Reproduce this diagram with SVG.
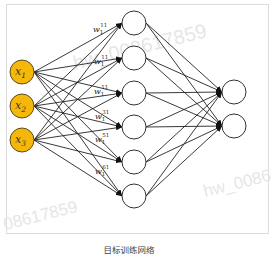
<svg xmlns="http://www.w3.org/2000/svg" width="273" height="266" viewBox="0 0 273 266">
<style>
.edge{stroke:#222;stroke-width:0.9;fill:none;marker-end:url(#ah)}
.hid{fill:#fff;stroke:#333;stroke-width:1}
.inp{fill:#F5B80A;stroke:#5a4a20;stroke-width:1}
.var{font-family:"DejaVu Serif","Liberation Serif",serif;font-style:italic;font-size:11px;fill:#333}
.w{font-family:"DejaVu Serif","Liberation Serif",serif;font-style:italic;font-size:8px;fill:#222}
.sup{font-style:normal;font-size:5.5px}
.wm{font-family:"Liberation Sans",Arial,sans-serif;fill:#e6e6e6}
.cap{font-family:"Noto Sans CJK SC","Noto Sans",sans-serif;font-size:8.5px;fill:#444}
</style>
<defs>
<marker id="ah" markerUnits="userSpaceOnUse" markerWidth="6" markerHeight="5" refX="6" refY="2.5" orient="auto">
<path d="M0,0 L6,2.5 L0,5 z" fill="#111"/>
</marker>
</defs>
<rect x="0" y="0" width="273" height="266" fill="#fff"/>
<rect x="6.5" y="4.5" width="262" height="229" fill="#fff" stroke="#dcdcdc" stroke-width="1"/>
<g id="watermarks">
<text class="wm" font-size="20" transform="translate(75,70) rotate(-14)">hw_008617859</text>
<text class="wm" font-size="17" transform="translate(205,197) rotate(-14)">hw_0086</text>
<text class="wm" font-size="17" transform="translate(5,230) rotate(-14)">08617859</text>
</g>
<g id="connectors">
<line class="edge" x1="34" y1="72" x2="122" y2="23"/>
<line class="edge" x1="34" y1="72" x2="122" y2="58"/>
<line class="edge" x1="34" y1="72" x2="122" y2="93"/>
<line class="edge" x1="34" y1="72" x2="122" y2="127"/>
<line class="edge" x1="34" y1="72" x2="122" y2="162"/>
<line class="edge" x1="34" y1="72" x2="122" y2="196"/>
<line class="edge" x1="34" y1="106" x2="122" y2="23"/>
<line class="edge" x1="34" y1="106" x2="122" y2="58"/>
<line class="edge" x1="34" y1="106" x2="122" y2="93"/>
<line class="edge" x1="34" y1="106" x2="122" y2="127"/>
<line class="edge" x1="34" y1="106" x2="122" y2="162"/>
<line class="edge" x1="34" y1="106" x2="122" y2="196"/>
<line class="edge" x1="34" y1="140" x2="122" y2="23"/>
<line class="edge" x1="34" y1="140" x2="122" y2="58"/>
<line class="edge" x1="34" y1="140" x2="122" y2="93"/>
<line class="edge" x1="34" y1="140" x2="122" y2="127"/>
<line class="edge" x1="34" y1="140" x2="122" y2="162"/>
<line class="edge" x1="34" y1="140" x2="122" y2="196"/>
<line class="edge" x1="146" y1="23" x2="222" y2="92"/>
<line class="edge" x1="146" y1="23" x2="222" y2="126"/>
<line class="edge" x1="146" y1="58" x2="222" y2="92"/>
<line class="edge" x1="146" y1="58" x2="222" y2="126"/>
<line class="edge" x1="146" y1="93" x2="222" y2="92"/>
<line class="edge" x1="146" y1="93" x2="222" y2="126"/>
<line class="edge" x1="146" y1="127" x2="222" y2="92"/>
<line class="edge" x1="146" y1="127" x2="222" y2="126"/>
<line class="edge" x1="146" y1="162" x2="222" y2="92"/>
<line class="edge" x1="146" y1="162" x2="222" y2="126"/>
<line class="edge" x1="146" y1="196" x2="222" y2="92"/>
<line class="edge" x1="146" y1="196" x2="222" y2="126"/>
</g>
<g id="weight-labels">
<text class="w" x="93" y="32">w<tspan class="sup" dy="2">1</tspan><tspan class="sup" dx="-3" dy="-7">11</tspan></text>
<text class="w" x="94" y="64">w<tspan class="sup" dy="2">1</tspan><tspan class="sup" dx="-3" dy="-7">11</tspan></text>
<text class="w" x="94" y="94">w<tspan class="sup" dy="2">1</tspan><tspan class="sup" dx="-3" dy="-7">11</tspan></text>
<text class="w" x="95" y="119">w<tspan class="sup" dy="2">1</tspan><tspan class="sup" dx="-3" dy="-7">31</tspan></text>
<text class="w" x="95" y="142">w<tspan class="sup" dy="2">1</tspan><tspan class="sup" dx="-3" dy="-7">51</tspan></text>
<text class="w" x="95" y="174">w<tspan class="sup" dy="2">1</tspan><tspan class="sup" dx="-3" dy="-7">61</tspan></text>
</g>
<g id="x1"><circle class="inp" cx="22" cy="72" r="12"/><text class="var" x="15" y="75">x<tspan font-size="7.5" dy="3">1</tspan></text></g>
<g id="x2"><circle class="inp" cx="22" cy="106" r="12"/><text class="var" x="15" y="109">x<tspan font-size="7.5" dy="3">2</tspan></text></g>
<g id="x3"><circle class="inp" cx="22" cy="140" r="12"/><text class="var" x="15" y="143">x<tspan font-size="7.5" dy="3">3</tspan></text></g>
<g id="h1"><circle class="hid" cx="134" cy="23" r="12"/></g>
<g id="h2"><circle class="hid" cx="134" cy="58" r="12"/></g>
<g id="h3"><circle class="hid" cx="134" cy="93" r="12"/></g>
<g id="h4"><circle class="hid" cx="134" cy="127" r="12"/></g>
<g id="h5"><circle class="hid" cx="134" cy="162" r="12"/></g>
<g id="h6"><circle class="hid" cx="134" cy="196" r="12"/></g>
<g id="o1"><circle class="hid" cx="234" cy="92" r="12"/></g>
<g id="o2"><circle class="hid" cx="234" cy="126" r="12"/></g>
<text class="cap" x="129" y="253" text-anchor="middle">目标训练网络</text>
</svg>
